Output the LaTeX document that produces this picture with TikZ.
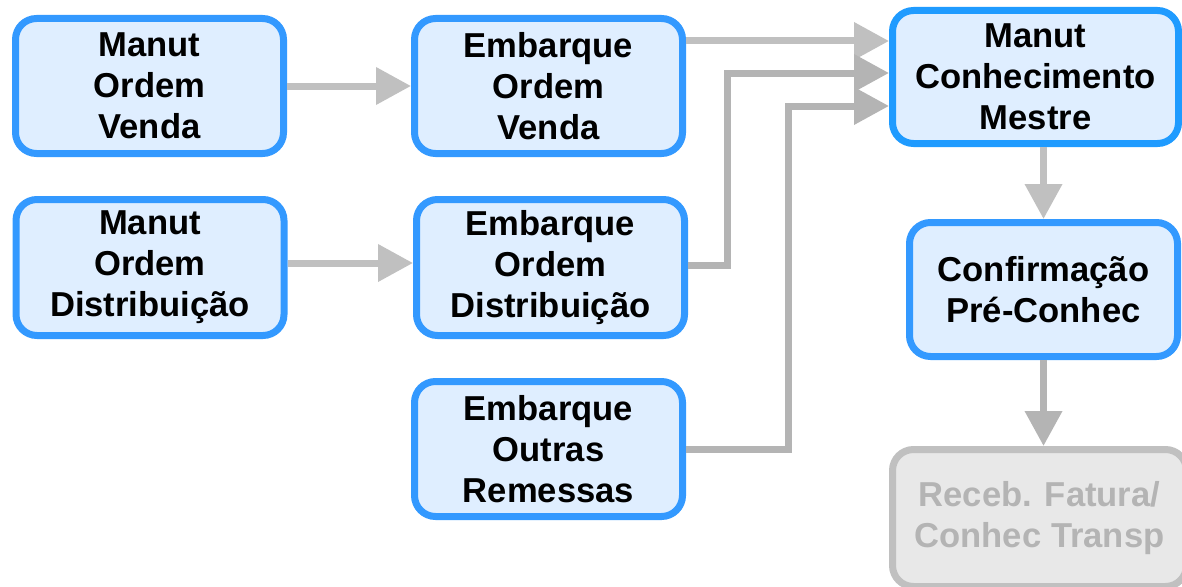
\documentclass[tikz,border=0pt]{standalone}
\usepackage{fontspec}
\setmainfont{Liberation Sans}
\usetikzlibrary{arrows.meta}
\definecolor{bfill}{HTML}{DFEEFF}
\definecolor{bline}{HTML}{3399FF}
\definecolor{bline2}{HTML}{1F9BFF}
\definecolor{gfill}{HTML}{E8E8E8}
\definecolor{gline}{HTML}{C0C0C0}
\definecolor{gtext}{HTML}{B4B4B4}
\definecolor{arrA}{HTML}{C0C0C0}
\definecolor{arrB}{HTML}{B4B4B4}
\tikzset{
  boxstyle/.style={draw=bline, fill=bfill, line width=7pt, rounded corners=21pt,
    align=center, inner sep=0pt, font=\bfseries\fontsize{34.6}{41}\selectfont,
    minimum width=268pt, minimum height=135pt},
  flowarrow/.style={line width=7pt, draw=arrA, -{Triangle[length=35pt,width=36pt]}},
  flowarrowdark/.style={flowarrow, draw=arrB},
}
\begin{document}
\begin{tikzpicture}[x=1pt,y=-1pt]
\useasboundingbox (0,0) rectangle (1182,586);
\clip (0,0) rectangle (1182,586);
\node[boxstyle] (A) at (149.5,86) {Manut\\Ordem\\Venda};
\node[boxstyle] (B) at (548.5,86) {Embarque\\Ordem\\Venda};
\node[boxstyle, minimum height=136pt] (D) at (150,267.5) {Manut\\Ordem\\Distribuição};
\node[boxstyle, minimum height=136pt] (E) at (550.5,267.5) {Embarque\\Ordem\\Distribuição};
\node[boxstyle] (G) at (548.5,449) {Embarque\\Outras\\Remessas};
\node[boxstyle, draw=bline2, minimum width=286pt, minimum height=133pt] (C) at (1035.5,77) {Manut\\Conhecimento\\Mestre};
\node[boxstyle, minimum height=134pt] (F) at (1043.5,289.5) {Confirmação\\Pré-Conhec};
\node[boxstyle, draw=gline, fill=gfill, text=gtext, minimum width=294pt, minimum height=137pt] (H) at (1039.5,518) {Receb. Fatura/\\Conhec Transp};

\coordinate (e1) at (727,265);
\coordinate (e2) at (727,73);
\coordinate (g1) at (788,449);
\coordinate (g2) at (788,106);

\draw[flowarrow] (A.east) -- (B.west);
\draw[flowarrow] (D.east |- 0,263) -- (E.west |- 0,263);
\draw[flowarrow] (B.east |- 0,41) -- (C.west |- 0,41);
\draw[flowarrowdark] (E.east |- e1) -- (e1) -- (e2) -- (C.west |- e2);
\draw[flowarrowdark] (G.east |- g1) -- (g1) -- (g2) -- (C.west |- g2);
\draw[flowarrow] (F.north |- C.south) -- (F.north);
\draw[flowarrowdark] (F.south) -- (F.south |- H.north);
\end{tikzpicture}
\end{document}
